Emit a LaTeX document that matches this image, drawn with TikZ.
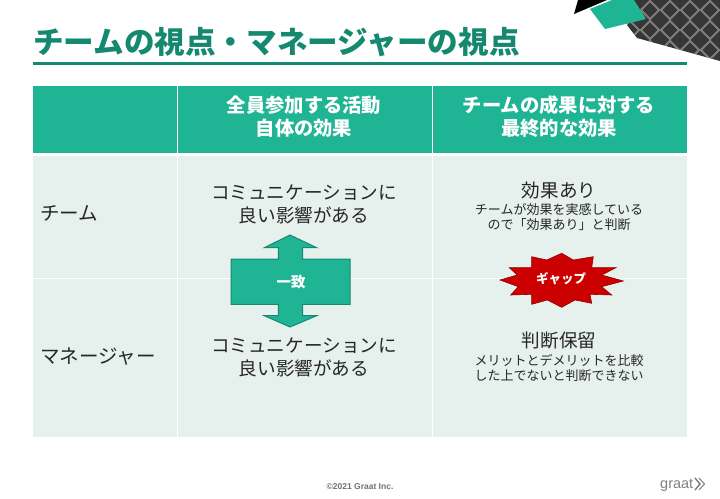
\documentclass[tikz,border=0pt]{standalone}
\usepackage{fontspec}
\setmainfont{Noto Sans CJK JP}
\newfontfamily\latinfont{Liberation Sans}
\definecolor{graatGreen}{HTML}{1FB594}
\definecolor{graatDark}{HTML}{15896F}
\definecolor{cellGreen}{HTML}{E6F0ED}
\definecolor{burstRed}{HTML}{CC0000}
\definecolor{patternDark}{HTML}{353635}
\begin{document}
\begin{tikzpicture}[
	x=1pt, y=-1pt,
	headcell/.style = {fill=graatGreen, minimum width=#1, minimum height=67pt, inner sep=0pt},
	bodycell/.style = {fill=cellGreen, minimum width=#1, inner sep=0pt},
	headtext/.style = {text=white, align=center, font=\fontsize{19.3}{23}\selectfont\bfseries},
	bodytext/.style = {align=center, font=\fontsize{18.6}{23}\selectfont, text=black!85},
	smalltext/.style = {align=center, font=\fontsize{13}{15}\selectfont, text=black!85},
	sidetext/.style = {anchor=west, inner sep=0pt, font=\fontsize{19.5}{23}\selectfont, text=black!85}]
	
	\useasboundingbox (0,0) rectangle (720,498);
	\fill[white] (0,0) rectangle (720,498);
	
	% corner decoration
	\begin{scope}
		\clip (634,0) -- (627,25) -- (637,38) -- (720,61) -- (720,0) -- cycle;
		\fill[patternDark] (620,0) rectangle (720,62);
		\foreach \i in {0,...,5}
		{
			\foreach \j in {0,...,3}
			{
				\draw[gray!70, line width=0.4pt, rotate around={45:(620+\i*20,\j*20)}] (613+\i*20,-7+\j*20) rectangle (627+\i*20,7+\j*20);
				\draw[gray!50, line width=0.4pt, rotate around={45:(630+\i*20,10+\j*20)}] (624+\i*20,4+\j*20) rectangle (636+\i*20,16+\j*20);
			}
		}
	\end{scope}
	\fill[black] (574,14) -- (578,0) -- (607,0) -- cycle;
	\fill[graatGreen] (590,9) -- (605,29) -- (646,19) -- (634,0) -- (612,0) -- cycle;
	
	% title
	\node[anchor=west, inner sep=0pt, text=graatDark, font=\fontsize{30.6}{36}\selectfont\bfseries] (title) at (33,42) {チームの視点・マネージャーの視点};
	\fill[graatDark] (33,61.5) rectangle (687,65);
	
	% table
	\node[headcell=144pt] (corner) at (105,119) {};
	\node[headcell=254pt] (headA) at (304.5,119) {};
	\node[headcell=254pt] (headB) at (560,119) {};
	\node[bodycell=144pt, minimum height=122pt] (team) at (105,216.5) {};
	\node[bodycell=254pt, minimum height=122pt] (teamA) at (304.5,216.5) {};
	\node[bodycell=254pt, minimum height=122pt] (teamB) at (560,216.5) {};
	\node[bodycell=144pt, minimum height=158pt] (manager) at (105,358) {};
	\node[bodycell=254pt, minimum height=158pt] (managerA) at (304.5,358) {};
	\node[bodycell=254pt, minimum height=158pt] (managerB) at (560,358) {};
	
	\node[headtext] (labelA) at (304,117) {全員参加する活動\\自体の効果};
	\node[headtext] (labelB) at (559,117) {チームの成果に対する\\最終的な効果};
	\node[sidetext] (labelTeam) at (40,213.5) {チーム};
	\node[sidetext] (labelManager) at (40,356.5) {マネージャー};
	
	\node[bodytext] (commA) at (304,204.5) {コミュニケーションに\\良い影響がある};
	\node[bodytext] (commB) at (304,357) {コミュニケーションに\\良い影響がある};
	\node[bodytext] (effect) at (559,190) {効果あり};
	\node[smalltext] (effectNote) at (559,217.5) {チームが効果を実感している\\ので「効果あり」と判断};
	\node[bodytext] (pending) at (559,340.5) {判断保留};
	\node[smalltext] (pendingNote) at (559,368) {メリットとデメリットを比較\\した上でないと判断できない};
	
	% match arrow
	\draw[fill=graatGreen, draw=graatDark, line width=1pt] (290,235) -- (316.7,247.7) -- (302.7,247.7) -- (302.7,259) -- (350,259) -- (350,304.3) -- (302.7,304.3) -- (302.7,315.7) -- (316.7,315.7) -- (290,327) -- (264.3,315.7) -- (278.3,315.7) -- (278.3,304.3) -- (231,304.3) -- (231,259) -- (278.3,259) -- (278.3,247.7) -- (264.3,247.7) -- cycle;
	\node[text=white, font=\fontsize{14.5}{16}\selectfont\bfseries] (match) at (291,282) {一致};
	
	% gap burst
	\draw[fill=burstRed, draw=burstRed!70!black, line width=0.6pt] (500,280) -- (517.3,275) -- (509.3,267.7) -- (531.7,267.7) -- (531.7,256.7) -- (546.7,260) -- (561.7,253.3) -- (573.3,260) -- (593.3,256.7) -- (591.7,267.7) -- (616,267.7) -- (601.7,275) -- (623.3,281) -- (601.7,286.7) -- (611.7,295) -- (590,294.3) -- (591.7,303.3) -- (575,300) -- (561.7,307.3) -- (547.3,300) -- (531.7,304.3) -- (531.7,294.3) -- (510.7,295) -- (518.3,286.7) -- cycle;
	\node[text=white, font=\fontsize{12.5}{14}\selectfont\bfseries] (gap) at (561,279) {ギャップ};
	
	% footer
	\node[text=black!55, font=\latinfont\fontsize{8.5}{10}\selectfont\bfseries] (copyright) at (360,487) {©2021 Graat Inc.};
	\node[anchor=west, inner sep=0pt, text=black!50, font=\latinfont\fontsize{14.5}{16}\selectfont] (logo) at (660,485) {graat};
	\draw[black!50, line width=1.5pt] (695,478) -- (700,484) -- (695,490);
	\draw[black!50, line width=1pt] (699,478) -- (704.5,484) -- (699,490);
\end{tikzpicture}
\end{document}
